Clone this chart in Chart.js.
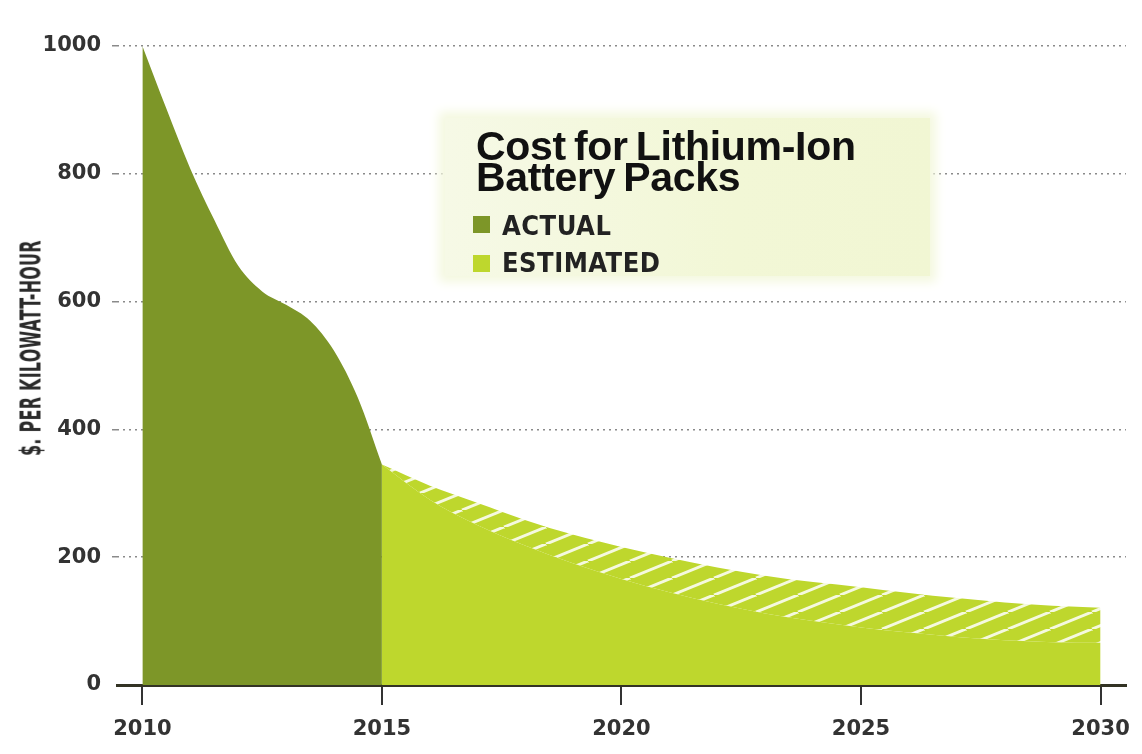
<!DOCTYPE html>
<html>
<head>
<meta charset="UTF-8">
<title>Cost for Lithium-Ion Battery Packs</title>
<script src="https://cdn.jsdelivr.net/npm/chart.js@4.4.1/dist/chart.umd.min.js"></script>
<style>
  html, body { margin: 0; padding: 0; background: #fff; }
  #wrap { position: relative; width: 1142px; height: 754px; overflow: hidden; }
  #costChart { position: absolute; left: 0; top: 0; }
  .ytitle {
    position: absolute; left: 31px; top: 348px;
    transform: translate(-50%, -50%) rotate(-90deg) scale(0.63, 1);
    font: bold 28px "DejaVu Sans Condensed", "DejaVu Sans", sans-serif;
    color: #2a2a2a; white-space: nowrap; letter-spacing: 0.5px;
  }
  .legend-box {
    position: absolute; left: 445px; top: 118px; width: 485px; height: 158px;
    background: linear-gradient(90deg, #f6f9e6 0%, #f2f7d6 60%, #f1f6d3 100%);
    box-shadow: 0 0 10px 6px #f4f8df;
  }
  .legend-title {
    position: absolute; left: 476px; top: 131px;
    font: bold 41px "Liberation Sans", Arial, sans-serif;
    line-height: 31px; letter-spacing: -0.3px; word-spacing: -3px; color: #111;
    white-space: nowrap;
  }
  .legend-item {
    position: absolute; left: 502px;
    font: bold 27px "DejaVu Sans Condensed", "DejaVu Sans", sans-serif;
    line-height: 27px; color: #222; letter-spacing: 0.5px; white-space: nowrap;
  }
  .swatch { position: absolute; left: 473px; width: 17px; height: 17px; }
</style>
</head>
<body>
<div id="wrap">
  <canvas id="costChart" width="1142" height="754"></canvas>
  <div class="ytitle">$. PER KILOWATT-HOUR</div>
  <div class="legend-box"></div>
  <div class="legend-title">Cost for Lithium-Ion<br>Battery Packs</div>
  <div class="swatch" style="top:216px; background:#7d9628;"></div>
  <div class="legend-item" style="top:212px;">ACTUAL</div>
  <div class="swatch" style="top:255px; background:#bed72d;"></div>
  <div class="legend-item" style="top:249px;">ESTIMATED</div>
</div>
<script>
// data
const actualYears = [2010, 2010.5, 2011, 2011.5, 2012, 2012.5, 2013, 2013.5, 2014, 2014.5, 2015];
const actualCost  = [1000, 902, 808, 728, 656, 616, 595, 570, 523, 449, 345];

const estYears = [2015, 2016, 2017, 2018, 2019, 2020, 2021, 2022, 2023, 2024, 2025, 2026, 2027, 2028, 2029, 2030];
const estHigh  = [345, 312, 285, 258, 235, 216, 199, 184, 171, 161, 153, 144, 136, 129, 124, 121];
const estLow   = [345, 290, 250, 218, 190, 166, 145, 127, 112, 100, 90, 82, 75, 70, 67, 66];

const xTicks = [2010, 2015, 2020, 2025, 2030];
const yTicks = [0, 200, 400, 600, 800, 1000];

const darkGreen = '#7d9628';
const lightGreen = '#bed72d';

// hatch pattern for the estimate band
function makeHatch() {
    const w = 42, h = 17;
    const c = document.createElement('canvas');
    c.width = w; c.height = h;
    const g = c.getContext('2d');
    g.fillStyle = lightGreen;
    g.fillRect(0, 0, w, h);
    g.strokeStyle = 'rgba(255,255,255,0.85)';
    g.lineWidth = 3;
    [-w, 0, w].forEach(off => {
        g.beginPath();
        g.moveTo(off, h);
        g.lineTo(off + w, 0);
        g.stroke();
    });
    return g.createPattern(c, 'repeat');
}

const toPts = (xs, ys) => xs.map((x, i) => ({ x: x, y: ys[i] }));

const ctx = document.getElementById('costChart');
new Chart(ctx, {
    type: 'line',
    data: {
        datasets: [{
            label: 'Actual',
            data: toPts(actualYears, actualCost),
            backgroundColor: darkGreen,
            fill: 'origin',
            borderWidth: 0,
            pointRadius: 0,
            cubicInterpolationMode: 'monotone'
        }, {
            label: 'Estimated (low)',
            data: toPts(estYears, estLow),
            backgroundColor: lightGreen,
            fill: 'origin',
            borderWidth: 0,
            pointRadius: 0,
            cubicInterpolationMode: 'monotone'
        }, {
            label: 'Estimated (high)',
            data: toPts(estYears, estHigh),
            backgroundColor: makeHatch(),
            fill: '-1',
            borderWidth: 0,
            pointRadius: 0,
            cubicInterpolationMode: 'monotone'
        }]
    },
    options: {
        responsive: false,
        animation: false,
        events: [],
        layout: { padding: { top: 46, right: 9, left: 0, bottom: 0 } },
        plugins: { legend: { display: false }, tooltip: { enabled: false } },
        scales: {
            x: {
                type: 'linear',
                min: 2009.47,
                max: 2030.53,
                afterBuildTicks: axis => { axis.ticks = xTicks.map(v => ({ value: v })); },
                afterFit: axis => { axis.height = 69; },
                border: { display: true, color: '#333324', width: 3 },
                grid: { drawOnChartArea: false, drawTicks: true, tickLength: 20, color: '#333', lineWidth: 2 },
                ticks: {
                    padding: 12,
                    color: '#333',
                    font: { family: 'DejaVu Sans', weight: 'bold', size: 21 },
                    callback: v => String(v)
                }
            },
            y: {
                min: 0,
                max: 1000,
                afterBuildTicks: axis => { axis.ticks = yTicks.map(v => ({ value: v })); },
                afterFit: axis => { axis.width = 117; },
                border: { display: false, dash: [2, 4] },
                grid: {
                    color: c => c.tick && c.tick.value === 0 ? 'rgba(0,0,0,0)' : '#8a8a8a',
                    lineWidth: 1.5,
                    drawTicks: true,
                    tickLength: 5
                },
                ticks: {
                    padding: 11,
                    color: '#333',
                    font: { family: 'DejaVu Sans', weight: 'bold', size: 21 },
                    callback: v => String(v)
                }
            }
        }
    }
});
</script>
</body>
</html>
